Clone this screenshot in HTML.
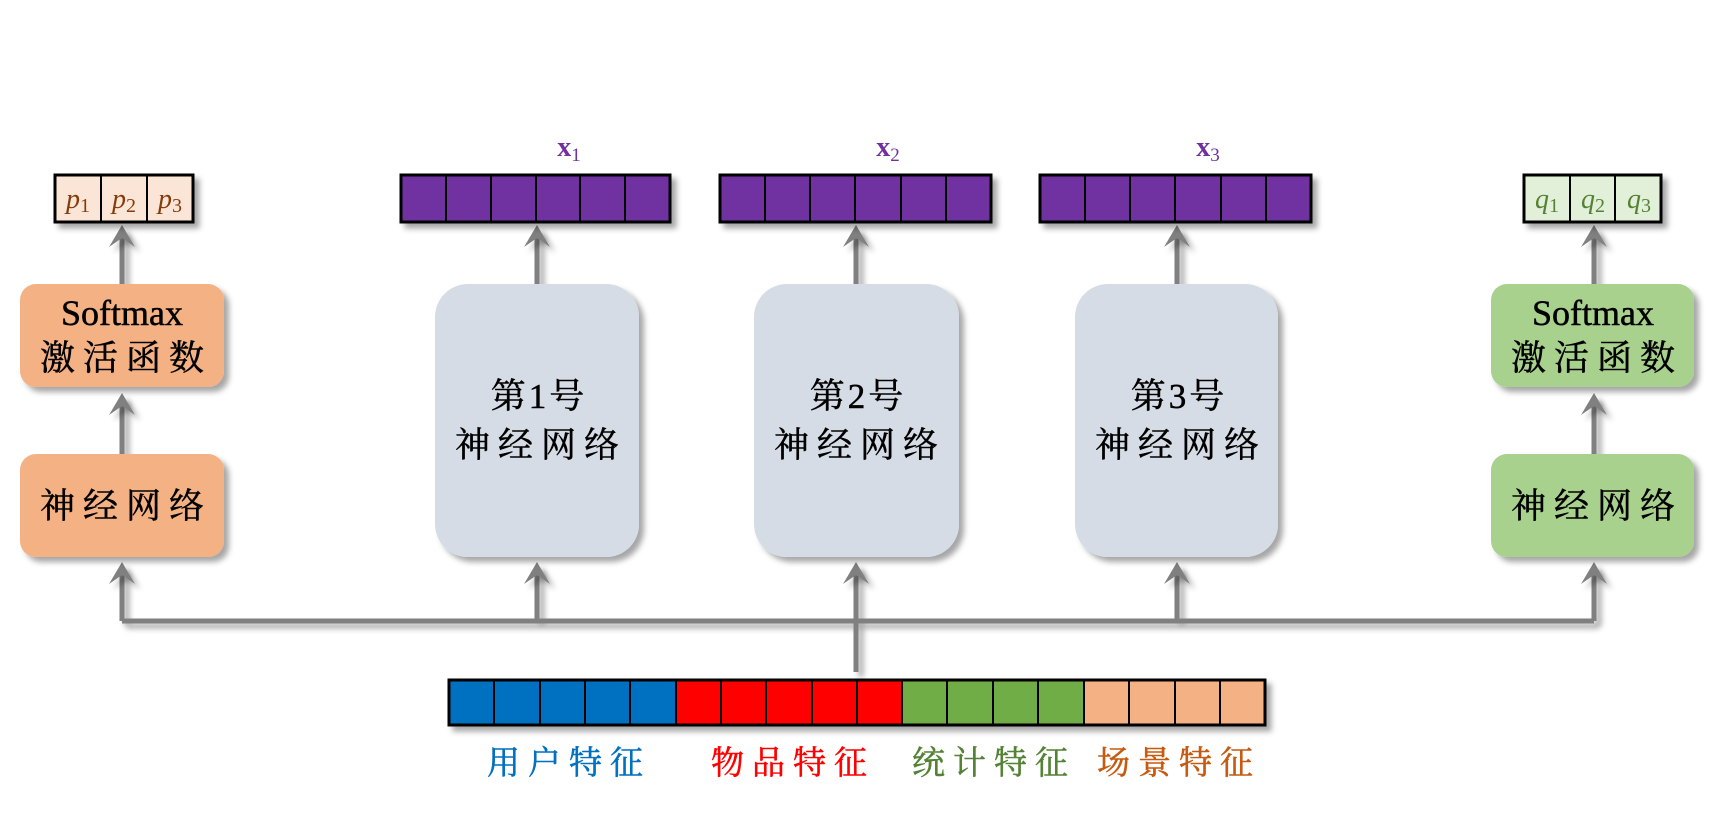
<!DOCTYPE html>
<html><head><meta charset="utf-8"><style>
html,body{margin:0;padding:0;background:#fff;}
svg{display:block;}
.cn{font-family:"Liberation Serif","Noto Serif CJK SC",serif;}
</style></head><body>
<svg width="1714" height="834" viewBox="0 0 1714 834" xmlns="http://www.w3.org/2000/svg">
<defs>
<filter id="sh" x="-20%" y="-20%" width="150%" height="150%">
<feDropShadow dx="5" dy="5" stdDeviation="3" flood-color="#000" flood-opacity="0.35"/>
</filter>
</defs>

<g filter="url(#sh)" stroke="#808080" stroke-width="5" fill="none">
<polyline points="122,621 1594,621"/>
<line x1="856" y1="672" x2="856" y2="621"/>
<line x1="122" y1="621" x2="122" y2="568"/>
<line x1="537" y1="621" x2="537" y2="568"/>
<line x1="856" y1="621" x2="856" y2="568"/>
<line x1="1177" y1="621" x2="1177" y2="568"/>
<line x1="1594" y1="621" x2="1594" y2="568"/>
<line x1="122" y1="454" x2="122" y2="398"/>
<line x1="1594" y1="454" x2="1594" y2="398"/>
<line x1="122" y1="284" x2="122" y2="232"/>
<line x1="537" y1="284" x2="537" y2="232"/>
<line x1="856" y1="284" x2="856" y2="232"/>
<line x1="1177" y1="284" x2="1177" y2="232"/>
<line x1="1594" y1="284" x2="1594" y2="232"/>
</g>
<g fill="#808080" filter="url(#sh)">
<path d="M122,562 l-13,22 l13,-9 l13,9z"/>
<path d="M537,562 l-13,22 l13,-9 l13,9z"/>
<path d="M856,562 l-13,22 l13,-9 l13,9z"/>
<path d="M1177,562 l-13,22 l13,-9 l13,9z"/>
<path d="M1594,562 l-13,22 l13,-9 l13,9z"/>
<path d="M122,393 l-13,22 l13,-9 l13,9z"/>
<path d="M1594,393 l-13,22 l13,-9 l13,9z"/>
<path d="M122,225 l-13,22 l13,-9 l13,9z"/>
<path d="M537,225 l-13,22 l13,-9 l13,9z"/>
<path d="M856,225 l-13,22 l13,-9 l13,9z"/>
<path d="M1177,225 l-13,22 l13,-9 l13,9z"/>
<path d="M1594,225 l-13,22 l13,-9 l13,9z"/>
</g>

<g filter="url(#sh)">
<rect x="20" y="284" width="204" height="103" rx="16" fill="#F4B183"/>
<rect x="20" y="454" width="204" height="103" rx="16" fill="#F4B183"/>
<rect x="1491" y="284" width="203" height="103" rx="16" fill="#A9D18E"/>
<rect x="1491" y="454" width="203" height="103" rx="16" fill="#A9D18E"/>
<rect x="435" y="284" width="204" height="273" rx="33" fill="#D6DCE5"/>
<rect x="754" y="284" width="205" height="273" rx="33" fill="#D6DCE5"/>
<rect x="1075" y="284" width="203" height="273" rx="33" fill="#D6DCE5"/>
</g>

<g class="cn" font-size="35" text-anchor="middle" fill="#000" stroke="#000" stroke-width="0.5">
<text x="122" y="325" font-size="36">Softmax</text>
<text x="126" y="370" letter-spacing="8">激活函数</text>
<text x="126" y="518" letter-spacing="8">神经网络</text>
<text x="1593" y="325" font-size="36">Softmax</text>
<text x="1597" y="370" letter-spacing="8">激活函数</text>
<text x="1597" y="518" letter-spacing="8">神经网络</text>
<text x="539" y="408" letter-spacing="3">第1号</text>
<text x="541" y="457" letter-spacing="8">神经网络</text>
<text x="858" y="408" letter-spacing="3">第2号</text>
<text x="860" y="457" letter-spacing="8">神经网络</text>
<text x="1179" y="408" letter-spacing="3">第3号</text>
<text x="1181" y="457" letter-spacing="8">神经网络</text>
</g>

<g filter="url(#sh)" stroke="#000" stroke-width="3">
<rect x="55" y="175" width="138" height="47" fill="#FBE5D6"/>
<rect x="1524" y="175" width="137" height="47" fill="#E2F0D9"/>
<rect x="401" y="175" width="269" height="47" fill="#7030A0"/>
<rect x="720" y="175" width="271" height="47" fill="#7030A0"/>
<rect x="1040" y="175" width="271" height="47" fill="#7030A0"/>
</g>
<g stroke="#000" stroke-width="2">
<line x1="101" y1="175" x2="101" y2="222"/><line x1="147" y1="175" x2="147" y2="222"/>
<line x1="1570" y1="175" x2="1570" y2="222"/><line x1="1615" y1="175" x2="1615" y2="222"/>
<line x1="446" y1="175" x2="446" y2="222"/><line x1="491" y1="175" x2="491" y2="222"/><line x1="536" y1="175" x2="536" y2="222"/><line x1="580" y1="175" x2="580" y2="222"/><line x1="625" y1="175" x2="625" y2="222"/>
<line x1="765" y1="175" x2="765" y2="222"/><line x1="810" y1="175" x2="810" y2="222"/><line x1="855" y1="175" x2="855" y2="222"/><line x1="901" y1="175" x2="901" y2="222"/><line x1="946" y1="175" x2="946" y2="222"/>
<line x1="1085" y1="175" x2="1085" y2="222"/><line x1="1130" y1="175" x2="1130" y2="222"/><line x1="1175" y1="175" x2="1175" y2="222"/><line x1="1221" y1="175" x2="1221" y2="222"/><line x1="1266" y1="175" x2="1266" y2="222"/>
</g>
<g font-family="Liberation Serif,serif" font-style="italic" font-size="28" fill="#843C0C" text-anchor="middle">
<text x="78" y="208">p<tspan font-size="20" dy="4" font-style="normal">1</tspan></text>
<text x="124" y="208">p<tspan font-size="20" dy="4" font-style="normal">2</tspan></text>
<text x="170" y="208">p<tspan font-size="20" dy="4" font-style="normal">3</tspan></text>
</g>
<g font-family="Liberation Serif,serif" font-style="italic" font-size="28" fill="#548235" text-anchor="middle">
<text x="1547" y="208">q<tspan font-size="20" dy="4" font-style="normal">1</tspan></text>
<text x="1593" y="208">q<tspan font-size="20" dy="4" font-style="normal">2</tspan></text>
<text x="1639" y="208">q<tspan font-size="20" dy="4" font-style="normal">3</tspan></text>
</g>
<g font-family="Liberation Serif,serif" font-weight="bold" font-size="28" fill="#7030A0" text-anchor="middle">
<text x="569" y="156">x<tspan font-size="19" dy="5" font-weight="normal">1</tspan></text>
<text x="888" y="156">x<tspan font-size="19" dy="5" font-weight="normal">2</tspan></text>
<text x="1208" y="156">x<tspan font-size="19" dy="5" font-weight="normal">3</tspan></text>
</g>

<g filter="url(#sh)">
<rect x="449" y="680" width="816" height="45" fill="#fff" stroke="#000" stroke-width="3"/>
</g>
<g stroke="#000" stroke-width="2">
<rect x="449" y="680" width="227" height="45" fill="#0070C0"/>
<rect x="676" y="680" width="226" height="45" fill="#FF0000"/>
<rect x="902" y="680" width="182" height="45" fill="#70AD47"/>
<rect x="1084" y="680" width="181" height="45" fill="#F4B183"/>
<line x1="494" y1="680" x2="494" y2="725"/><line x1="540" y1="680" x2="540" y2="725"/><line x1="585" y1="680" x2="585" y2="725"/><line x1="630" y1="680" x2="630" y2="725"/>
<line x1="721" y1="680" x2="721" y2="725"/><line x1="766" y1="680" x2="766" y2="725"/><line x1="812" y1="680" x2="812" y2="725"/><line x1="857" y1="680" x2="857" y2="725"/>
<line x1="947" y1="680" x2="947" y2="725"/><line x1="993" y1="680" x2="993" y2="725"/><line x1="1038" y1="680" x2="1038" y2="725"/>
<line x1="1129" y1="680" x2="1129" y2="725"/><line x1="1175" y1="680" x2="1175" y2="725"/><line x1="1220" y1="680" x2="1220" y2="725"/>
</g>
<rect x="449" y="680" width="816" height="45" fill="none" stroke="#000" stroke-width="3"/>

<g class="cn" font-size="33" text-anchor="middle" stroke-width="0.5">
<text x="569" y="774" fill="#0070C0" stroke="#0070C0" letter-spacing="8">用户特征</text>
<text x="793" y="774" fill="#FF0000" stroke="#FF0000" letter-spacing="8">物品特征</text>
<text x="994" y="774" fill="#548235" stroke="#548235" letter-spacing="8">统计特征</text>
<text x="1179" y="774" fill="#C55A11" stroke="#C55A11" letter-spacing="8">场景特征</text>
</g>
</svg>
</body></html>
